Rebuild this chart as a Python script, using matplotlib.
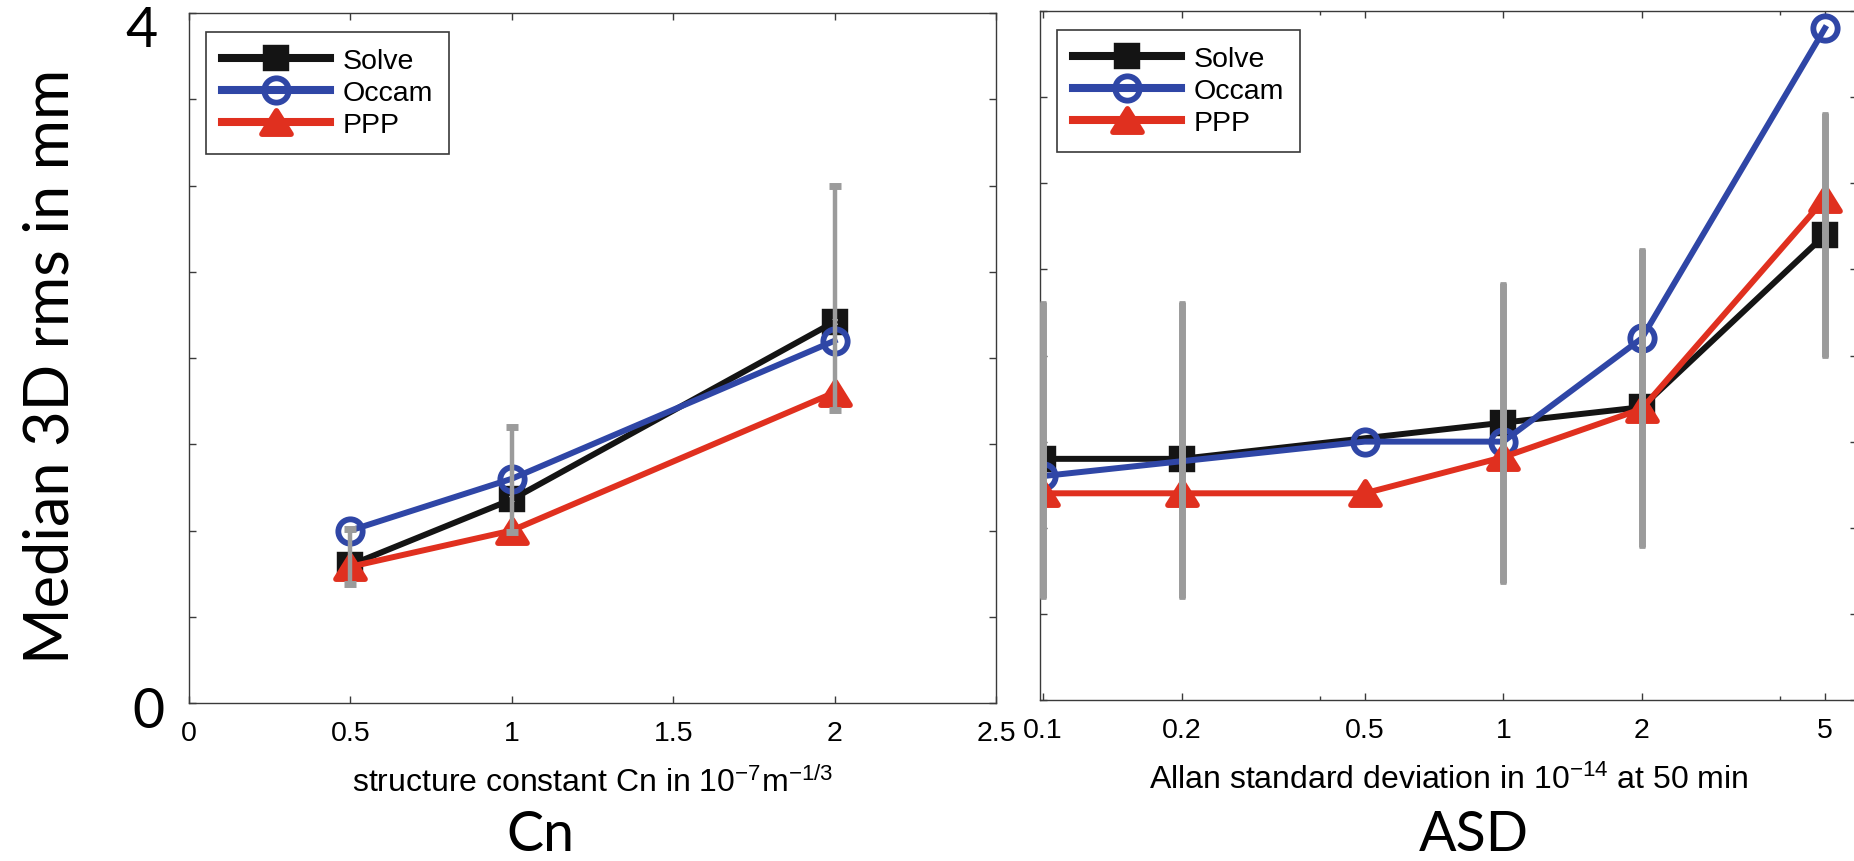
import numpy as np
import matplotlib.pyplot as plt
from matplotlib.path import Path
from matplotlib.ticker import FixedLocator, NullFormatter

plt.rcParams['font.family'] = ['Liberation Sans', 'DejaVu Sans']
plt.rcParams['mathtext.default'] = 'regular'

W, H = 1854, 862

# structure constant panel
cn_solve_x = [0.5, 1, 2]
cn_solve = [0.80, 1.18, 2.21]
cn_occam_x = [0.5, 1, 2]
cn_occam = [1.00, 1.30, 2.10]
cn_ppp_x = [0.5, 1, 2]
cn_ppp = [0.79, 1.00, 1.80]
cn_bar_x = [0.5, 1, 2]
cn_bar_lo = [0.69, 0.99, 1.70]
cn_bar_hi = [1.01, 1.60, 3.00]
cn_ticks = [0, 0.5, 1, 1.5, 2, 2.5]
cn_ticklabels = ['0', '0.5', '1', '1.5', '2', '2.5']

# Allan standard deviation panel
asd_solve_x = [0.1, 0.2, 1, 2, 5]
asd_solve = [1.40, 1.40, 1.61, 1.70, 2.70]
asd_occam_x = [0.1, 0.5, 1, 2, 5]
asd_occam = [1.30, 1.50, 1.50, 2.10, 3.90]
asd_ppp_x = [0.1, 0.2, 0.5, 1, 2, 5]
asd_ppp = [1.20, 1.20, 1.20, 1.41, 1.69, 2.91]
asd_bar_x = [0.1, 0.2, 1, 2, 5]
asd_bar_lo = [0.59, 0.59, 0.68, 0.89, 1.99]
asd_bar_hi = [2.31, 2.31, 2.42, 2.62, 3.41]
asd_ticks = [0.1, 0.2, 0.5, 1, 2, 5]
asd_ticklabels = ['0.1', '0.2', '0.5', '1', '2', '5']
asd_minor = [0.4, 4]

y_ticks = np.arange(0, 4.01, 0.5)

BLACK = '#141414'
BLUE = '#2f46a6'
RED = '#e0301f'
GREY = '#9b9b9b'
AXC = '#3a3a3a'

# wide, flat triangle like the MATLAB '^' marker
tri = Path([(0, 1), (-1.25, -1), (1.25, -1), (0, 1)],
           [Path.MOVETO, Path.LINETO, Path.LINETO, Path.CLOSEPOLY])


def draw_series(ax, sx, sy, ox, oy, px, py):
    l1, = ax.plot(sx, sy, color=BLACK, lw=4.3, marker='s', ms=12, mew=7.5,
                  mfc='none', mec=BLACK, label='Solve', zorder=2)
    l2, = ax.plot(ox, oy, color=BLUE, lw=4.3, marker='o', ms=17.5, mew=4.2,
                  mfc='none', mec=BLUE, label='Occam', zorder=2)
    l3, = ax.plot(px, py, color=RED, lw=4.3, marker=tri, ms=21, mew=4,
                  mfc=RED, mec=RED, label='PPP', zorder=2)
    return [l1, l2, l3]


def draw_bars(ax, bx, lo, hi, lw, cap, capthick):
    lo = np.array(lo)
    hi = np.array(hi)
    mid = (lo + hi) / 2
    ax.errorbar(bx, mid, yerr=[mid - lo, hi - mid], fmt='none', ecolor=GREY,
                elinewidth=lw, capsize=cap, capthick=capthick, zorder=3)


def style_axes(ax):
    for sp in ax.spines.values():
        sp.set_color(AXC)
        sp.set_linewidth(1.0)
    ax.tick_params(which='both', direction='in', top=True, right=True,
                   color=AXC, width=1.0, labelsize=20.5, pad=12)
    ax.tick_params(which='major', length=5)
    ax.tick_params(which='minor', length=3)
    ax.set_ylim(0, 4)
    ax.set_yticks(y_ticks)
    ax.tick_params(labelleft=False)


def add_legend(ax, handles, width_px, height_px):
    leg = ax.legend(handles=handles, loc='upper left',
                    bbox_to_anchor=(17 / width_px, 1 - 19 / height_px),
                    borderaxespad=0, fancybox=False, framealpha=1,
                    edgecolor=AXC, fontsize=20.5, handlelength=3.8,
                    handletextpad=0.45, borderpad=0.55, labelspacing=0.22)
    leg.get_frame().set_linewidth(1.2)
    for ln in leg.get_lines():
        ln.set_linewidth(5.8)


fig = plt.figure(figsize=(W / 100, H / 100), dpi=100)

# left panel: Cn
ax1 = fig.add_axes([189 / W, 1 - 704 / H, 807 / W, 690 / H])
h1 = draw_series(ax1, cn_solve_x, cn_solve, cn_occam_x, cn_occam, cn_ppp_x, cn_ppp)
draw_bars(ax1, cn_bar_x, cn_bar_lo, cn_bar_hi, 3.2, 4, 5)
style_axes(ax1)
ax1.set_xlim(0, 2.5)
ax1.set_xticks(cn_ticks)
ax1.set_xticklabels(cn_ticklabels)
ax1.set_xlabel('structure constant Cn in 10$^{-7}$m$^{-1/3}$', fontsize=23, labelpad=15)
add_legend(ax1, h1, 807, 690)

# right panel: ASD on log axis
ax2 = fig.add_axes([1040 / W, 1 - 701 / H, 817 / W, 689 / H])
h2 = draw_series(ax2, asd_solve_x, asd_solve, asd_occam_x, asd_occam, asd_ppp_x, asd_ppp)
draw_bars(ax2, asd_bar_x, asd_bar_lo, asd_bar_hi, 5, 2.5, 2)
ax2.set_xscale('log')
style_axes(ax2)
ax2.set_xlim(0.0985, 5.87)
ax2.xaxis.set_major_locator(FixedLocator(asd_ticks))
ax2.set_xticklabels(asd_ticklabels)
ax2.xaxis.set_minor_locator(FixedLocator(asd_minor))
ax2.xaxis.set_minor_formatter(NullFormatter())
ax2.set_xlabel('Allan standard deviation in 10$^{-14}$ at 50 min', fontsize=23, labelpad=15)
add_legend(ax2, h2, 817, 689)

# shared annotations
big = dict(family=['Lato', 'DejaVu Sans'], fontsize=40, color='black')
fig.text(142 / W, 1 - 47 / H, '4', ha='center', va='baseline', **big)
fig.text(148 / W, 1 - 728 / H, '0', ha='center', va='baseline', **big)
fig.text(51 / W, 1 - 366 / H, 'Median 3D rms in mm', rotation=90,
         ha='center', va='center', family=['Lato', 'DejaVu Sans'], fontsize=44)
fig.text(540 / W, 1 / H, 'Cn', ha='center', va='bottom', **big)
fig.text(1474 / W, 1 / H, 'ASD', ha='center', va='bottom', **big)

fig.savefig('out.png', dpi=100)
